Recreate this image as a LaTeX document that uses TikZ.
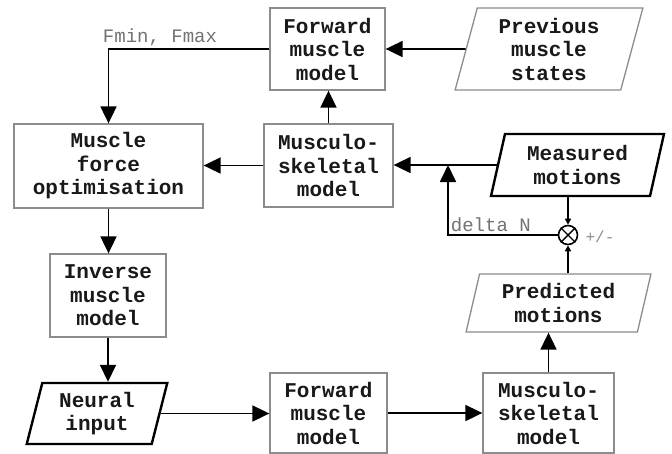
\documentclass[tikz,border=0pt]{standalone}
\usepackage{fontspec}
\setmonofont{Liberation Mono}
\usetikzlibrary{shapes.geometric,arrows.meta}
\tikzset{
  box/.style={draw=black!45,line width=1.3pt,align=center,inner sep=0pt,text=black!90,
    font=\ttfamily\bfseries\fontsize{21}{23.5}\selectfont},
  data/.style={box,trapezium,trapezium left angle=76,trapezium right angle=104,trapezium stretches=true},
  keydata/.style={data,draw=black,line width=2.4pt},
  flow/.style={line width=1.8pt,-{Triangle[length=17pt,width=16pt]}},
  tick/.style={line width=1.5pt,-{Triangle[length=6pt,width=6pt]}},
  note/.style={text=black!55,inner sep=2pt,font=\ttfamily\fontsize{19}{21}\selectfont},
}
\begin{document}
\begin{tikzpicture}[x=1pt,y=-1pt]
  \useasboundingbox[fill=white] (0,0) rectangle (672,453);
  \node[box,minimum width=115pt,minimum height=82pt] (fwdtop) at (327.5,49) {Forward\\muscle\\model};
  \node[data,minimum width=188pt,minimum height=82pt] (prev) at (549,49) {Previous\\muscle\\states};
  \node[box,minimum width=189pt,minimum height=84pt] (mfo) at (108.5,166) {Muscle\\force\\optimisation};
  \node[box,minimum width=129pt,minimum height=83pt] (msmid) at (328.5,165.5) {Musculo-\\skeletal\\model};
  \node[keydata,minimum width=173pt,minimum height=62pt] (meas) at (577.5,165) {Measured\\motions};
  \node[draw,circle,line width=1.6pt,minimum size=19pt,inner sep=0pt] (sum) at (568,235) {};
  \draw[line width=1.4pt] (sum.north west) -- (sum.south east) (sum.north east) -- (sum.south west);
  \node[note,font=\ttfamily\fontsize{16}{18}\selectfont,text=black!45] (sign) at (600,237) {+/-};
  \node[box,minimum width=116pt,minimum height=83pt] (inv) at (108,295.5) {Inverse\\muscle\\model};
  \node[data,minimum width=185pt,minimum height=58pt] (pred) at (558.5,303) {Predicted\\motions};
  \node[keydata,minimum width=142pt,minimum height=61pt] (neural) at (97,413.5) {Neural\\input};
  \node[box,minimum width=117pt,minimum height=80pt] (fwdbot) at (328.5,413) {Forward\\muscle\\model};
  \node[box,minimum width=131pt,minimum height=80pt] (msbot) at (548.5,413) {Musculo-\\skeletal\\model};
  \coordinate (join) at (448,165);

  \draw[flow] (prev) -- (fwdtop);
  \draw[flow] (fwdtop.west) -| node[note,above,pos=0.34] {Fmin, Fmax} (mfo.north);
  \draw[flow] (msmid.north) -- (msmid.north |- fwdtop.south);
  \draw[flow] (msmid.west) -- (msmid.west -| mfo.east);
  \draw[flow] (meas.left side) -- (meas.left side -| msmid.east);
  \draw[flow] (sum.west) -| node[note,above right,pos=0.5] {delta N} (join);
  \draw[tick] (sum |- meas.south) -- (sum.north);
  \draw[tick] (sum |- pred.north) -- (sum.south);
  \draw[flow] (mfo.south) -- (mfo.south |- inv.north);
  \draw[flow] (inv.south) -- (inv.south |- neural.north);
  \draw[flow] (neural.right side) -- (neural.right side -| fwdbot.west);
  \draw[flow] (fwdbot) -- (msbot);
  \draw[flow] (msbot.north) -- (msbot.north |- pred.south);
\end{tikzpicture}
\end{document}
